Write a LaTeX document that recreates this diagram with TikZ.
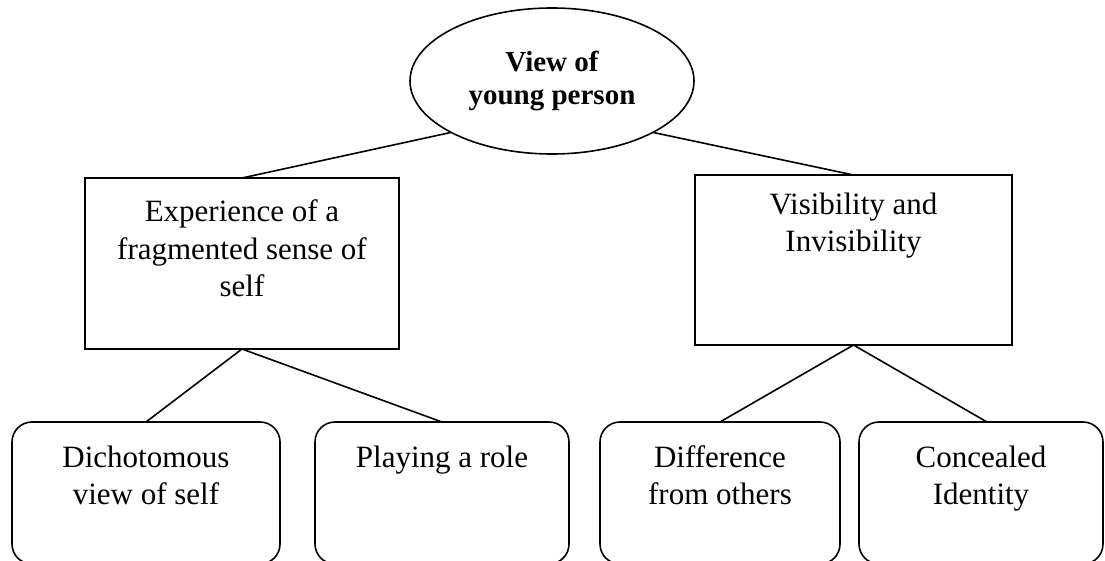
\documentclass[tikz,border=0pt]{standalone}
\usepackage{fontspec}
\setmainfont{Liberation Serif}
\usetikzlibrary{shapes.geometric}

% boxed text: width, height, first-baseline offset, lines
\newcommand{\celltext}[4]{\parbox[c][#2][t]{#1}{\centering\fontsize{31}{37}\selectfont\rule{0pt}{#3}#4}}

\tikzset{
  base/.style={draw, line width=1.6pt, inner sep=0pt, outer sep=0pt},
  sqbox/.style={base, rectangle},
  rbox/.style={base, rectangle, rounded corners=20pt},
  oval/.style={base, ellipse, align=center, font=\bfseries\fontsize{29}{33}\selectfont},
  link/.style={line width=1.6pt}
}

\begin{document}
\begin{tikzpicture}[x=1pt, y=-1pt]
  \useasboundingbox (0,0) rectangle (1105,561);

  % root
  \node[oval, minimum width=284pt, minimum height=146pt] (top) at (552,81) {View of\\young person};

  % second level
  \node[sqbox] (frag) at (242,263.5) {\celltext{314pt}{171pt}{44pt}{Experience of a\\fragmented sense of\\self}};
  \node[sqbox] (vis) at (853.5,260) {\celltext{317pt}{170pt}{40pt}{Visibility and\\Invisibility}};

  % third level (bottom edges run just past the page)
  \node[rbox] (dich) at (146,493) {\celltext{268pt}{142pt}{45pt}{Dichotomous\\view of self}};
  \node[rbox] (role) at (442,493) {\celltext{254pt}{142pt}{45pt}{Playing a role}};
  \node[rbox] (diff) at (720,493) {\celltext{240pt}{142pt}{45pt}{Difference\\from others}};
  \node[rbox] (conc) at (981,493) {\celltext{244pt}{142pt}{45pt}{Concealed\\Identity}};

  % connectors
  \draw[link] (top.207) -- (frag.north);
  \draw[link] (top.333) -- (vis.north);
  \draw[link] (frag.south) -- (dich.north);
  \draw[link] (frag.south) -- (role.north);
  \draw[link] (vis.south) -- (diff.north);
  \draw[link] (vis.south) -- ([xshift=6pt]conc.north);
\end{tikzpicture}
\end{document}
